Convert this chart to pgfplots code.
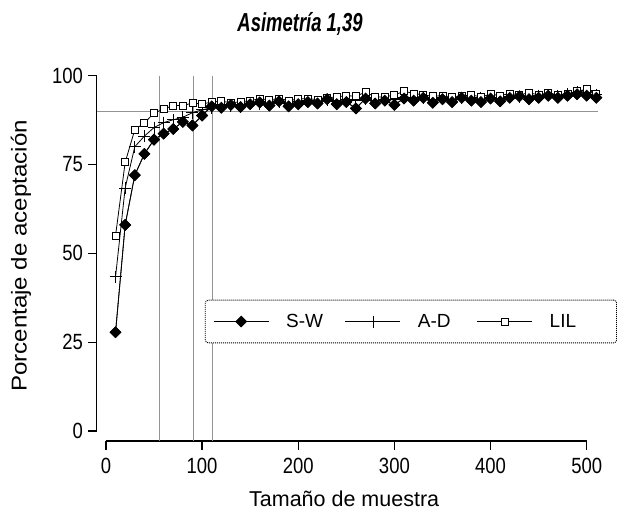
\documentclass[border=0pt]{standalone}
\usepackage{pgfplots}
\usepackage{pgfplotstable}
\pgfplotsset{compat=1.18}
\usepackage{fontspec}
\setmainfont{Liberation Sans}
\newfontfamily\narrowfont{Liberation Sans}[FakeStretch=0.84]
\newfontfamily\titlefont{Liberation Sans}[FakeStretch=0.71]
\newfontfamily\ylabfont{Liberation Sans}[FakeStretch=1.12]

\pgfplotstableread{
n sw ad lil
10 27.8 43.4 55.0
20 58.0 68.4 75.6
30 72.0 80.0 84.8
40 78.0 83.0 86.7
50 82.0 85.4 89.5
60 83.7 86.8 90.6
70 85.0 87.6 91.6
80 87.0 88.3 91.6
90 86.0 89.6 92.3
100 88.8 90.4 92.0
110 91.4 91.0 92.6
120 91.0 91.8 92.8
130 91.8 91.5 92.4
140 91.2 92.0 92.6
150 92.0 92.2 93.0
160 92.5 92.0 93.5
170 91.6 92.4 93.2
180 92.8 92.6 93.6
190 91.4 92.3 93.0
200 92.0 92.8 93.4
210 92.6 93.0 93.6
220 92.2 92.6 93.2
230 93.4 93.3 93.8
240 92.0 92.8 94.0
250 92.6 93.4 94.4
260 90.8 93.0 94.2
270 93.6 93.5 95.4
280 92.2 93.0 94.0
290 93.0 93.4 94.0
300 91.8 93.2 94.6
310 93.6 93.8 95.6
320 93.0 93.4 95.0
330 93.8 93.6 94.6
340 92.4 93.4 94.2
350 93.4 93.8 94.4
360 92.6 93.2 94.0
370 93.8 93.8 94.2
380 93.0 93.4 94.6
390 92.6 93.8 94.0
400 93.6 94.0 94.8
410 92.8 93.6 94.4
420 93.8 94.2 95.0
430 94.2 94.0 94.6
440 93.4 94.2 95.2
450 93.8 94.4 94.6
460 94.4 94.6 95.2
470 93.8 94.4 94.6
480 94.4 94.8 95.0
490 94.8 95.4 95.6
500 94.4 95.8 96.2
510 93.8 94.6 95.0
}\datatable

\begin{document}
\begin{tikzpicture}
\useasboundingbox (-96.7pt,-69pt) rectangle (520.3pt,441pt);
\begin{axis}[
  scale only axis, width=490pt, height=365.3pt,
  xmin=-9.6, xmax=500, ymin=-2.8, ymax=100,
  axis lines*=left, axis line style={draw=none},
  clip=false,
  xtick={0,100,200,300,400,500},
  ytick={0,25,50,75,100},
  tick align=outside, major tick length=8.5pt,
  tick style={black, line width=1.2pt},
  /pgf/number format/assume math mode=true,
  xticklabel style={font=\narrowfont\fontsize{22}{25}\selectfont, anchor=north, inner sep=0pt, yshift=-8pt},
  yticklabel style={font=\narrowfont\fontsize{22}{25}\selectfont, anchor=east, inner sep=0pt, xshift=-5pt},
  every axis title/.style={at={(axis description cs:0.415,1.1415)}, anchor=center},
  title style={font=\titlefont\bfseries\itshape\fontsize{26}{30}\selectfont},
  title={Asimetría 1,39},
  every axis x label/.style={at={(axis description cs:0.505,-0.159)}, anchor=center},
  xlabel style={font=\fontsize{21.5}{25}\selectfont},
  xlabel={Tamaño de muestra},
  every axis y label/.style={at={(axis description cs:-0.1545,0.5064)}, anchor=center, rotate=90},
  ylabel style={font=\ylabfont\fontsize{21.5}{25}\selectfont},
  ylabel={Porcentaje de aceptación},
  legend columns=3,
  legend cell align=left,
  legend image code/.code={\draw[solid, sharp corners, mark repeat=2, mark phase=2, #1] plot coordinates {(0pt,0pt) (27.5pt,0pt) (55pt,0pt)};},
  legend style={at={(axis description cs:0.6414,0.3271)}, anchor=center,
    draw=black, line width=0.9pt, dash pattern=on 1pt off 1pt, rounded corners=3pt,
    inner xsep=8pt, inner ysep=12pt,
    font=\fontsize{19}{22}\selectfont,
    /tikz/every odd column/.append style={column sep=17pt},
    nodes={inner xsep=0pt, inner ysep=2pt}},
]
% axis lines
\addplot[black, line width=1.3pt, forget plot] coordinates {(-9.6,0) (-9.6,100)};
\addplot[black, line width=1.3pt, forget plot] coordinates {(0,-2.8) (500,-2.8)};
% reference lines
\addplot[gray!85, line width=1pt, forget plot] coordinates {(-9.6,90) (512,90)};
\addplot[gray!85, line width=1pt, forget plot] coordinates {(56,-2.8) (56,100)};
\addplot[gray!85, line width=1pt, forget plot] coordinates {(91,-2.8) (91,100)};
\addplot[gray!85, line width=1pt, forget plot] coordinates {(111,-2.8) (111,100)};
% series
\addplot[black, line width=0.8pt, mark=square*, mark size=3.8pt, mark options={rotate=45, fill=black}] table[x=n, y=sw] {\datatable};
\addlegendentry{\makebox[59pt][l]{S-W}}
\addplot[black, line width=0.8pt, mark=+, mark size=6pt, mark options={line width=0.9pt}] table[x=n, y=ad] {\datatable};
\addlegendentry{\makebox[59pt][l]{A-D}}
\addplot[black, line width=0.8pt, mark=square*, mark size=3.5pt, mark options={fill=white}] table[x=n, y=lil] {\datatable};
\addlegendentry{\makebox[59pt][l]{LIL}}
\addplot[black, line width=0.8pt, mark=square*, mark size=3.8pt, mark options={rotate=45, fill=black}, forget plot] table[x=n, y=sw] {\datatable};
\end{axis}
\end{tikzpicture}
\end{document}
